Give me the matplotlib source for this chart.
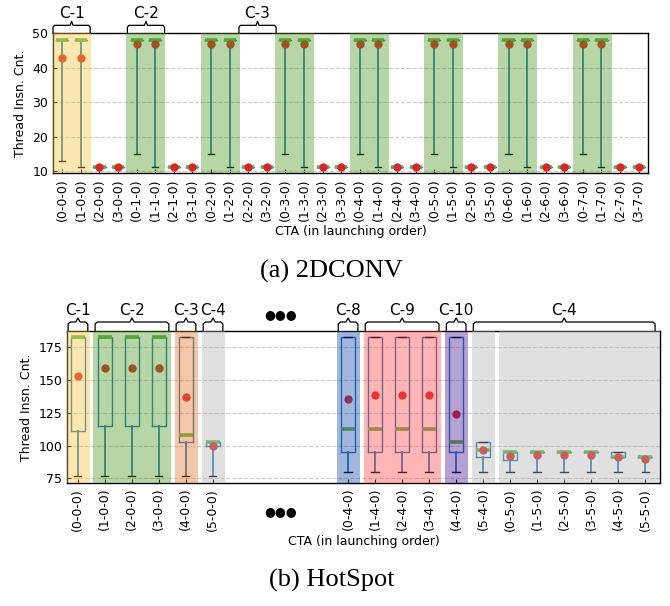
import matplotlib
matplotlib.use('Agg')
import matplotlib.pyplot as plt
from matplotlib.transforms import blended_transform_factory

# ---------------- (a) 2DCONV ----------------
conv_labels = ['(%d-%d-0)' % (x, y) for y in range(8) for x in range(4)]
conv_mean = [42.7, 42.7, 11, 11,  46.9, 46.9, 11, 11,
             46.9, 46.9, 11, 11,  46.9, 46.9, 11, 11,
             46.9, 46.9, 11, 11,  46.9, 46.9, 11, 11,
             46.9, 46.9, 11, 11,  46.9, 46.9, 11, 11]
conv_min = [13, 11, 11, 11,  15, 11, 11, 11,
            15, 11, 11, 11,  15, 11, 11, 11,
            15, 11, 11, 11,  15, 11, 11, 11,
            15, 11, 11, 11,  15, 11, 11, 11]
conv_max = [48, 48, 11, 11,  48, 48, 11, 11,
            48, 48, 11, 11,  48, 48, 11, 11,
            48, 48, 11, 11,  48, 48, 11, 11,
            48, 48, 11, 11,  48, 48, 11, 11]
conv_groups = [('C-1', 0, 1), ('C-2', 4, 5), ('C-3', 10, 11)]
conv_spans = [(0, 1, 'yellow'), (4, 5, 'green'), (8, 9, 'green'), (12, 13, 'green'),
              (16, 17, 'green'), (20, 21, 'green'), (24, 25, 'green'), (28, 29, 'green')]

# ---------------- (b) HotSpot ----------------
hs_labels = ['(0-0-0)', '(1-0-0)', '(2-0-0)', '(3-0-0)', '(4-0-0)', '(5-0-0)',
             '(0-4-0)', '(1-4-0)', '(2-4-0)', '(3-4-0)', '(4-4-0)', '(5-4-0)',
             '(0-5-0)', '(1-5-0)', '(2-5-0)', '(3-5-0)', '(4-5-0)', '(5-5-0)']
hs_pos = list(range(6)) + list(range(10, 22))
hs_q1 = [111, 115, 115, 115, 103, 100, 95, 95, 95, 95, 95, 91, 89, 95.3, 95.3, 95.3, 91.5, 91.5]
hs_q3 = [183, 183, 183, 183, 183, 103, 183, 183, 183, 183, 183, 103, 95.3, 95.3, 95.3, 95.3, 95, 91.5]
hs_med = [183, 183, 183, 183, 108, 103, 113, 113, 113, 113, 103, 97, 95.3, 95.3, 95.3, 95.3, 91.5, 91.5]
hs_lo = [77, 77, 77, 77, 77, 77, 80, 80, 80, 80, 80, 80, 80, 80, 80, 80, 80, 80]
hs_mean = [153.5, 159, 159, 159, 137, 99.5, 135.3, 139, 139, 139, 124, 97, 92.3, 92.8, 92.8, 92.8, 91.5, 89.6]
hs_groups = [('C-1', 0, 0), ('C-2', 1, 3), ('C-3', 4, 4), ('C-4', 5, 5),
             ('C-8', 10, 10), ('C-9', 11, 13), ('C-10', 14, 14), ('C-4', 15, 21)]
hs_spans = [(0, 0, 'yellow'), (1, 3, 'green'), (4, 4, 'orange'), (5, 5, 'gray'),
            (10, 10, 'blue'), (11, 13, 'red'), (14, 14, 'purple'), (15, 15, 'gray'), (16, 22, 'gray')]

span_colors = {'yellow': '#fac53e', 'green': '#4b961e', 'orange': '#e8752a', 'gray': '#b2b2b2',
               'blue': '#1848ac', 'red': '#ff4848', 'purple': '#481693'}

fig = plt.figure(figsize=(6.7, 6.06), dpi=100)
ax1 = fig.add_axes([0.0791, 0.714, 0.888, 0.231])
ax2 = fig.add_axes([0.100, 0.203, 0.885, 0.2508])


def draw_boxes(ax, pos, q1, q3, med, lo, hi, mean, width):
    stats = [dict(q1=a, q3=b, med=m, whislo=l, whishi=h, mean=mu, fliers=[])
             for a, b, m, l, h, mu in zip(q1, q3, med, lo, hi, mean)]
    ax.bxp(stats, positions=pos, widths=width, showmeans=True, showfliers=False,
           manage_ticks=False,
           boxprops=dict(color='#1f77b4', lw=1.0),
           whiskerprops=dict(color='#1f77b4', lw=1.3),
           capprops=dict(color='black', lw=1.0),
           medianprops=dict(color='#58b548', lw=2.6),
           meanprops=dict(marker='o', markerfacecolor='#d62728',
                          markeredgecolor='#d62728', markersize=5))


def brace(ax, x0, x1, label, end_px, notch_px, text_px):
    trans = blended_transform_factory(ax.transData, ax.transAxes)
    d = 1.0 / (ax.get_position().height * fig.get_figheight() * fig.dpi)
    xm = (x0 + x1) / 2.0
    r = 0.08
    xs = [x0, x0, x0 + r, xm - r, xm, xm + r, x1 - r, x1, x1]
    ys = [1, 1 + (end_px - 2) * d, 1 + end_px * d, 1 + end_px * d, 1 + notch_px * d,
          1 + end_px * d, 1 + end_px * d, 1 + (end_px - 2) * d, 1]
    ax.plot(xs, ys, color='black', lw=0.9, transform=trans, clip_on=False)
    ax.text(xm, 1 + text_px * d, label, ha='center', va='center', fontsize=11,
            transform=trans)


def style(ax):
    ax.tick_params(direction='in', length=3, labelsize=9, top=False, right=False)
    ax.yaxis.grid(True, ls='--', color='#cccccc', lw=0.8)
    ax.set_axisbelow(True)
    for s in ax.spines.values():
        s.set_linewidth(1.0)
        s.set_color('black')
    ax.set_ylabel('Thread Insn. Cnt.', fontsize=9)
    ax.set_xlabel('CTA (in launching order)', fontsize=9, labelpad=3)


# (a)
conv_pos = list(range(len(conv_labels)))
draw_boxes(ax1, conv_pos, conv_max, conv_max, conv_max, conv_min, conv_max, conv_mean, 0.65)
for a, b, c in conv_spans:
    ax1.axvspan(a - 0.55, b + 0.55, color=span_colors[c], alpha=0.4, lw=0, zorder=3)
ax1.set_xlim(-0.5, 31.5)
ax1.set_ylim(9.3, 50)
ax1.set_yticks([10, 20, 30, 40, 50])
ax1.set_xticks(conv_pos)
ax1.set_xticklabels(conv_labels, rotation=90)
style(ax1)
for name, a, b in conv_groups:
    brace(ax1, a - 0.5, b + 0.5, name, 8, 12, 20)

# (b)
draw_boxes(ax2, hs_pos, hs_q1, hs_q3, hs_med, hs_lo, hs_q3, hs_mean, 0.53)
for a, b, c in hs_spans:
    ax2.axvspan(a - 0.42, b + 0.44, color=span_colors[c], alpha=0.4, lw=0, zorder=3)
ax2.set_xlim(-0.4, 21.55)
ax2.set_ylim(71.5, 187.5)
ax2.set_yticks([75, 100, 125, 150, 175])
ax2.set_xticks(hs_pos)
ax2.set_xticklabels(hs_labels, rotation=90)
style(ax2)
for name, a, b in hs_groups:
    brace(ax2, a - 0.36, min(b + 0.37, 21.55), name, 9, 13, 20)

# gap markers
t2 = blended_transform_factory(ax2.transData, ax2.transAxes)
ax2.text(7.5, 1 + 16 / 152.0, '\u25cf\u25cf\u25cf', ha='center', va='center',
         fontsize=9, transform=t2)
ax2.text(7.5, -29 / 152.0, '\u25cf\u25cf\u25cf', ha='center', va='center',
         fontsize=9, transform=t2)

fig.text(0.495, 1 - 271 / 606.0, '(a) 2DCONV', ha='center', va='center',
         family='Liberation Serif', fontsize=19)
fig.text(0.495, 1 - 580 / 606.0, '(b) HotSpot', ha='center', va='center',
         family='Liberation Serif', fontsize=19)

fig.savefig('out.png', dpi=100)
